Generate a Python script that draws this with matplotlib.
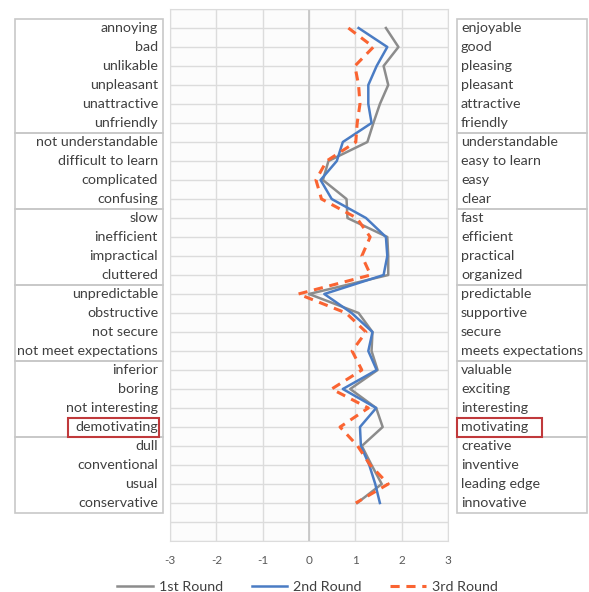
import matplotlib.pyplot as plt
from matplotlib.patches import Rectangle
from matplotlib.transforms import blended_transform_factory
from matplotlib.lines import Line2D

plt.rcParams['font.family'] = ['Lato', 'DejaVu Sans']

# Word pairs (negative / positive), grouped into the UEQ scales
left_words = ['annoying', 'bad', 'unlikable', 'unpleasant', 'unattractive', 'unfriendly',
              'not understandable', 'difficult to learn', 'complicated', 'confusing',
              'slow', 'inefficient', 'impractical', 'cluttered',
              'unpredictable', 'obstructive', 'not secure', 'not meet expectations',
              'inferior', 'boring', 'not interesting', 'demotivating',
              'dull', 'conventional', 'usual', 'conservative']
right_words = ['enjoyable', 'good', 'pleasing', 'pleasant', 'attractive', 'friendly',
               'understandable', 'easy to learn', 'easy', 'clear',
               'fast', 'efficient', 'practical', 'organized',
               'predictable', 'supportive', 'secure', 'meets expectations',
               'valuable', 'exciting', 'interesting', 'motivating',
               'creative', 'inventive', 'leading edge', 'innovative']
group_sizes = [6, 4, 4, 4, 4, 4]
highlight = 'demotivating'

round1 = [1.66, 1.93, 1.61, 1.71, 1.53, 1.39, 1.26, 0.42, 0.30, 0.81, 0.83, 1.69, 1.71,
          1.71, 0.00, 1.07, 1.37, 1.35, 1.48, 0.89, 1.45, 1.59, 1.14, 1.35, 1.57, 1.04]
round2 = [1.07, 1.69, 1.46, 1.28, 1.28, 1.35, 0.73, 0.60, 0.25, 0.49, 1.23, 1.66, 1.69,
          1.61, 0.33, 0.92, 1.37, 1.28, 1.46, 0.73, 1.45, 1.10, 1.12, 1.30, 1.43, 1.53]
round3 = [0.85, 1.39, 0.99, 1.07, 1.10, 1.04, 1.01, 0.38, 0.15, 0.27, 1.03, 1.32, 1.14,
          1.33, -0.23, 0.80, 1.23, 0.93, 1.14, 0.49, 1.28, 0.67, 1.05, 1.32, 1.71, 1.01]
x_ticks = [-3, -2, -1, 0, 1, 2, 3]

fig = plt.figure(figsize=(5.89, 5.92), dpi=100)
ax = fig.add_axes([170 / 589, 1 - 541 / 592, 278 / 589, 532 / 592])

rows = list(range(len(left_words)))
ax.plot(round1, rows, color='#8c8c8c', lw=1.8, label='1st Round', zorder=3)
ax.plot(round2, rows, color='#4a7cc4', lw=1.8, label='2nd Round', zorder=4)
ax.plot(round3, rows, color='#fa6432', lw=2.2, ls=(0, (3, 2.2)), label='3rd Round', zorder=5)

ax.set_xlim(-3, 3)
ax.set_ylim(27, -1)
ax.set_xticks(x_ticks)
ax.set_xticklabels([str(t) for t in x_ticks])
ax.set_yticks(range(-1, 28))
ax.set_yticklabels([])
ax.tick_params(axis='both', length=0, colors='#595959', labelsize=8.5, pad=10)
ax.grid(True, color='#dcdcdc', lw=1)
ax.axvline(0, color='#c4c4c4', lw=1.2, zorder=1)
ax.set_axisbelow(True)
ax.set_facecolor('#fcfcfc')
for s in ax.spines.values():
    s.set_color('#dcdcdc')

# word boxes on both sides
trans = blended_transform_factory(fig.transFigure, ax.transData)
start = -0.5
for n in group_sizes:
    for x0, x1 in [(15, 163), (457, 587)]:
        ax.add_patch(Rectangle((x0 / 589, start), (x1 - x0) / 589, n, transform=trans,
                               fill=False, edgecolor='#c8c8c8', lw=1.2, clip_on=False))
    start += n

for i, (lw_, rw_) in enumerate(zip(left_words, right_words)):
    ax.text(158 / 589, i, lw_, transform=trans, ha='right', va='center',
            fontsize=10.3, color='#404040')
    ax.text(461 / 589, i, rw_, transform=trans, ha='left', va='center',
            fontsize=10.3, color='#404040')

# highlighted pair
k = left_words.index(highlight)
for x0, x1 in [(68, 159), (457, 542)]:
    ax.add_patch(Rectangle((x0 / 589, k - 0.47), (x1 - x0) / 589, 0.97, transform=trans,
                           fill=False, edgecolor='#c0393b', lw=1.5, clip_on=False, zorder=6))

handles = [Line2D([], [], color='#8c8c8c', lw=1.8),
           Line2D([], [], color='#4a7cc4', lw=1.8),
           Line2D([], [], color='#fa6432', lw=2.2, ls=(0, (3, 2.2)))]
fig.legend(handles, ['1st Round', '2nd Round', '3rd Round'], loc='center',
           bbox_to_anchor=(0.522, 0.008), ncol=3, frameon=False, fontsize=10.3,
           handlelength=2.5, handletextpad=0.4, columnspacing=2.0,
           labelcolor='#404040')

fig.savefig('out.png', dpi=100)
